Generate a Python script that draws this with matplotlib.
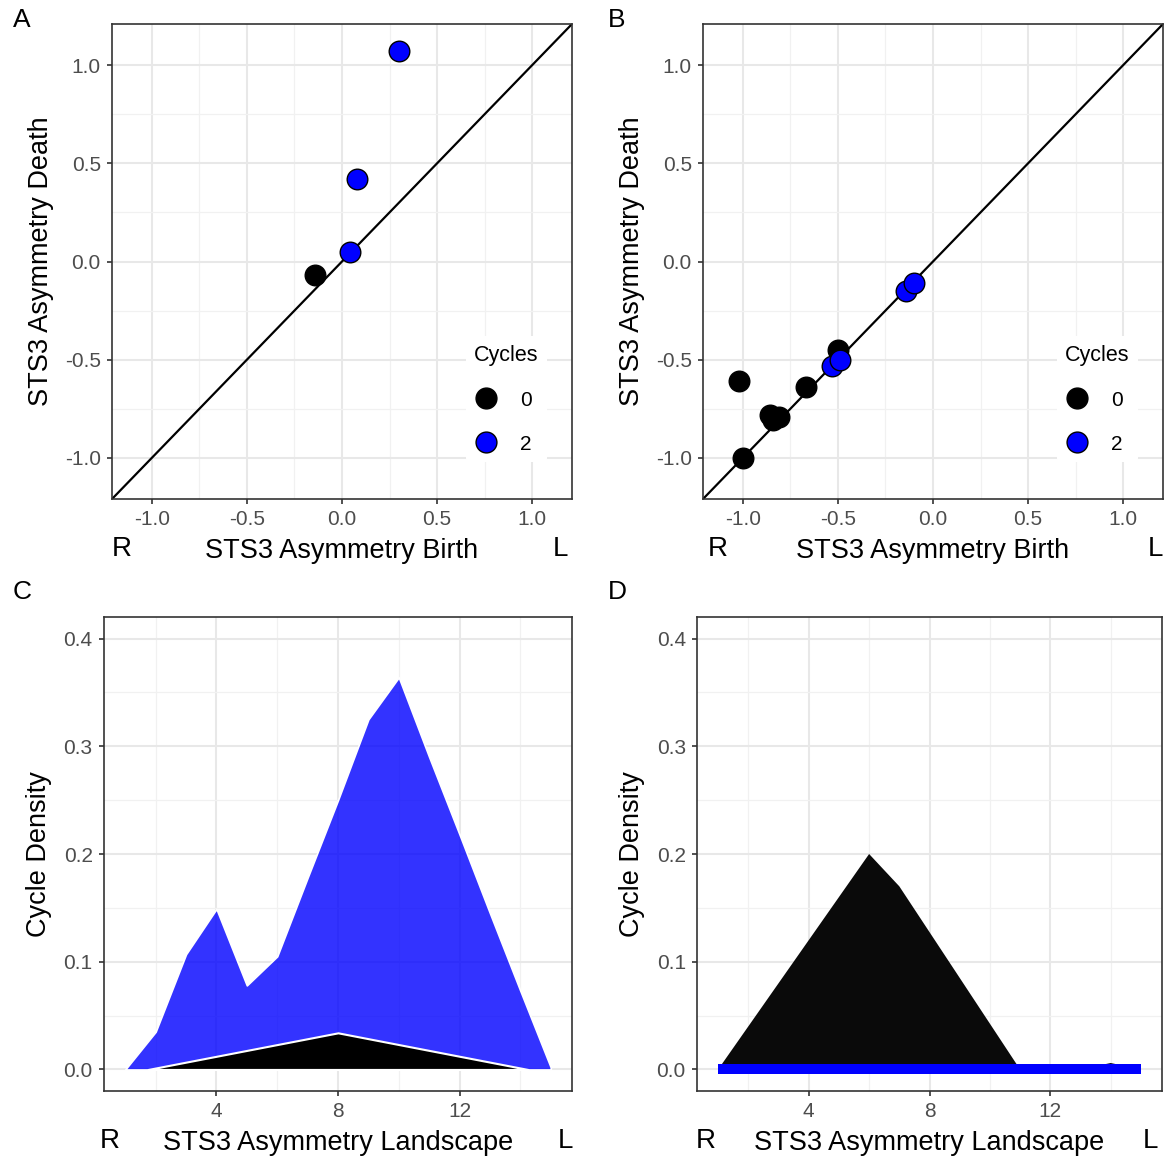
import matplotlib
matplotlib.use('Agg')
import matplotlib.pyplot as plt
from matplotlib.lines import Line2D
from matplotlib.ticker import MultipleLocator

plt.rcParams['font.family'] = ['Liberation Sans', 'DejaVu Sans']

W, H = 1172, 1159

# ---- data ----
# A: persistence points (birth, death), by cycle dimension
a_birth_0 = [-0.14]
a_death_0 = [-0.07]
a_birth_2 = [0.04, 0.08, 0.30]
a_death_2 = [0.05, 0.42, 1.07]

# B
b_birth_0 = [-1.02, -1.00, -0.86, -0.84, -0.81, -0.67, -0.50]
b_death_0 = [-0.61, -1.00, -0.78, -0.81, -0.79, -0.64, -0.45]
b_birth_2 = [-0.53, -0.49, -0.14, -0.10]
b_death_2 = [-0.53, -0.50, -0.15, -0.11]

# C: landscape densities
c_x_2 = [1, 2, 3, 4, 5, 6, 7, 8, 9, 10, 11, 12, 13, 14, 15]
c_y_2 = [0.0, 0.035, 0.107, 0.149, 0.078, 0.105, 0.178, 0.25, 0.325, 0.364,
         0.29, 0.218, 0.145, 0.073, 0.002]
c_x_0 = [1.75, 8, 14.25]
c_y_0 = [0.0, 0.034, 0.0]

# D
d_x_0 = [1, 6, 7, 11, 13, 14, 15]
d_y_0 = [0.0, 0.2, 0.17, 0.0, 0.0, 0.006, 0.0]
d_x_2 = [1, 15]
d_y_2 = [0.0, 0.0]

BLUE = '#0000FF'
TICK_FS = 15
TITLE_FS = 19.5


def add_ax(fig, l, t, r, b):
    return fig.add_axes([l / W, 1 - b / H, (r - l) / W, (b - t) / H])


def style(ax, xmaj, xmin, ymaj, ymin):
    ax.xaxis.set_major_locator(MultipleLocator(xmaj))
    ax.xaxis.set_minor_locator(MultipleLocator(xmin))
    ax.yaxis.set_major_locator(MultipleLocator(ymaj))
    ax.yaxis.set_minor_locator(MultipleLocator(ymin))
    ax.grid(which='major', color='#E8E8E8', linewidth=1.5)
    ax.grid(which='minor', color='#F1F1F1', linewidth=0.9)
    ax.set_axisbelow(True)
    for s in ax.spines.values():
        s.set_color('#333333')
        s.set_linewidth(1.2)
    ax.tick_params(which='major', length=3.6, width=1.2, color='#333333',
                   labelsize=TICK_FS, labelcolor='#4D4D4D', pad=4.5)
    ax.tick_params(which='minor', length=0)


def ftext(x, y, s, size=TITLE_FS, **kw):
    fig.text(x / W, 1 - y / H, s, size=size, ha='center', va='center', **kw)


def legend(ax):
    handles = [Line2D([], [], marker='o', ls='none', ms=15, mfc='black', mec='black', mew=1),
               Line2D([], [], marker='o', ls='none', ms=15, mfc=BLUE, mec='black', mew=1)]
    leg = ax.legend(handles, ['0', '2'], title='Cycles', loc='center',
                    bbox_to_anchor=(0.857, 0.21), frameon=True, fontsize=TICK_FS,
                    title_fontsize=15.5, labelspacing=1.2, handlelength=1.2,
                    handletextpad=1.0, borderpad=0.4, alignment='left')
    leg.get_frame().set_edgecolor('none')
    leg.get_frame().set_facecolor('white')
    leg.get_frame().set_alpha(1)


def fmt(v, pos):
    return '%.1f' % v


fig = plt.figure(figsize=(W / 100, H / 100), dpi=100)

# ---------- A & B: birth vs death ----------
panels = [
    (add_ax(fig, 112, 24, 572, 499), a_birth_0, a_death_0, a_birth_2, a_death_2),
    (add_ax(fig, 703, 24, 1163, 499), b_birth_0, b_death_0, b_birth_2, b_death_2),
]
for ax, bx0, dy0, bx2, dy2 in panels:
    style(ax, 0.5, 0.25, 0.5, 0.25)
    ax.set_xlim(-1.21, 1.21)
    ax.set_ylim(-1.21, 1.21)
    ax.xaxis.set_major_formatter(fmt)
    ax.yaxis.set_major_formatter(fmt)
    ax.axline((0, 0), slope=1, color='black', lw=1.6, zorder=2)
    ax.scatter(bx0, dy0, s=220, c='black', edgecolors='black', linewidths=1, zorder=3)
    ax.scatter(bx2, dy2, s=220, c=BLUE, edgecolors='black', linewidths=1, zorder=3)
    ax.set_xlabel('STS3 Asymmetry Birth', fontsize=TITLE_FS, labelpad=6)
    ax.set_ylabel('STS3 Asymmetry Death', fontsize=TITLE_FS, labelpad=8)
    legend(ax)

# ---------- C & D: landscapes ----------
axc = add_ax(fig, 104, 617, 572, 1091)
axd = add_ax(fig, 697, 617, 1162, 1091)
for ax in (axc, axd):
    style(ax, 4, 2, 0.1, 0.05)
    ax.set_xlim(0.3, 15.7)
    ax.set_ylim(-0.02, 0.42)
    ax.yaxis.set_major_formatter(fmt)
    ax.set_xlabel('STS3 Asymmetry Landscape', fontsize=TITLE_FS, labelpad=6)
    ax.set_ylabel('Cycle Density', fontsize=TITLE_FS, labelpad=8)

axc.fill_between(c_x_2, c_y_2, facecolor=(0, 0, 1, 0.8), edgecolor='white', linewidth=1.2, zorder=2)
axc.fill_between(c_x_0, c_y_0, facecolor='black', edgecolor='white', linewidth=1.5, zorder=3)

axd.fill_between(d_x_0, d_y_0, facecolor='#0A0A0A', edgecolor='none', zorder=2)
axd.plot(d_x_2, d_y_2, color=BLUE, lw=7.2, solid_capstyle='butt', zorder=3)

# panel letters and R / L side markers
for x, y, s in [(22, 20, 'A'), (617, 20, 'B'), (22, 592, 'C'), (617, 592, 'D')]:
    ftext(x, y, s, size=19)
for x, y, s in [(122, 549, 'R'), (560, 549, 'L'), (718, 549, 'R'), (1155, 549, 'L'),
                (110, 1141, 'R'), (565, 1141, 'L'), (706, 1141, 'R'), (1150, 1141, 'L')]:
    ftext(x, y, s, size=20)

fig.savefig('out.png', dpi=100)
